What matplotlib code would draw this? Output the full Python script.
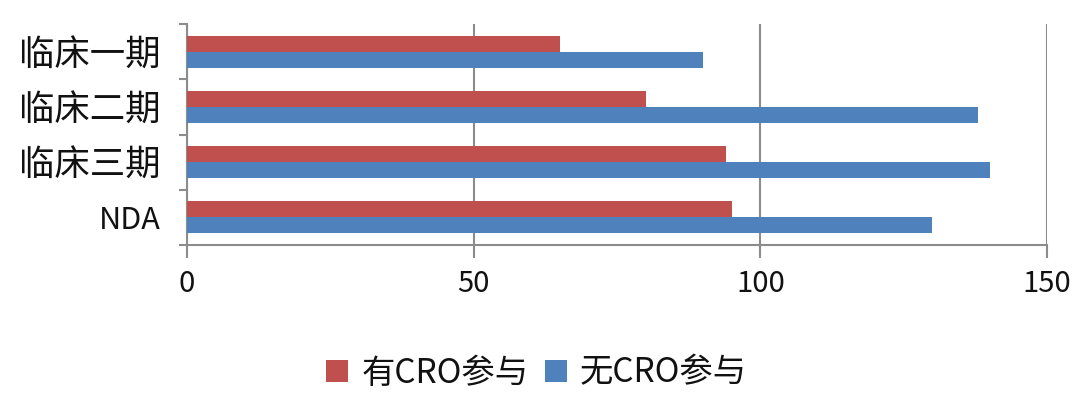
import matplotlib
matplotlib.use("Agg")
import matplotlib.pyplot as plt
import numpy as np

plt.rcParams["font.family"] = ["Noto Sans CJK SC", "DejaVu Sans"]
plt.rcParams["font.weight"] = "medium"

categories = ["临床一期", "临床二期", "临床三期", "NDA"]
with_cro = [65, 80, 94, 95]
without_cro = [90, 138, 140, 130]
series_names = ["有CRO参与", "无CRO参与"]
x_ticks = [0, 50, 100, 150]

RED = "#C0504D"
BLUE = "#4F81BD"
GRID = "#8c8c8c"
TEXT = "#111111"

figure = plt.figure(figsize=(10.8, 4.15), dpi=100)
axis = figure.add_axes([0.1731, 0.4096, 0.7963, 0.5326])

y = np.arange(len(categories))
height = 0.29
axis.barh(y - height / 2, with_cro, height, color=RED, label=series_names[0], zorder=3)
axis.barh(y + height / 2, without_cro, height, color=BLUE, label=series_names[1], zorder=3)

axis.set_xlim(0, 150)
axis.set_ylim(len(categories) - 0.5, -0.5)
axis.set_xticks(x_ticks)
axis.set_yticks(y, categories)
axis.set_yticks(np.arange(len(categories) + 1) - 0.5, minor=True)

axis.tick_params(axis="y", which="major", length=0, pad=19, labelsize=25.5, labelcolor=TEXT)
axis.tick_params(axis="y", which="minor", length=6, width=1.5, color=GRID, direction="out")
axis.tick_params(axis="x", which="major", length=9, width=1.5, color=GRID, direction="out",
                 pad=8, labelsize=21, labelcolor=TEXT)
# the latin label is set smaller, as in the source chart
axis.get_yticklabels()[-1].set_fontsize(22)

axis.grid(axis="x", color=GRID, linewidth=1.5, zorder=0)
for side in ("top", "right"):
    axis.spines[side].set_visible(False)
for side in ("left", "bottom"):
    axis.spines[side].set_color(GRID)
    axis.spines[side].set_linewidth(1.5)

handles, labels = axis.get_legend_handles_labels()
figure.legend(handles, labels, loc="center", bbox_to_anchor=(0.497, 0.101), ncol=2, frameon=False,
              fontsize=24, handlelength=0.65, handleheight=0.65, handletextpad=0.4, columnspacing=0.5,
              labelcolor=TEXT)

figure.savefig("out.png", dpi=100)
plt.close(figure)
